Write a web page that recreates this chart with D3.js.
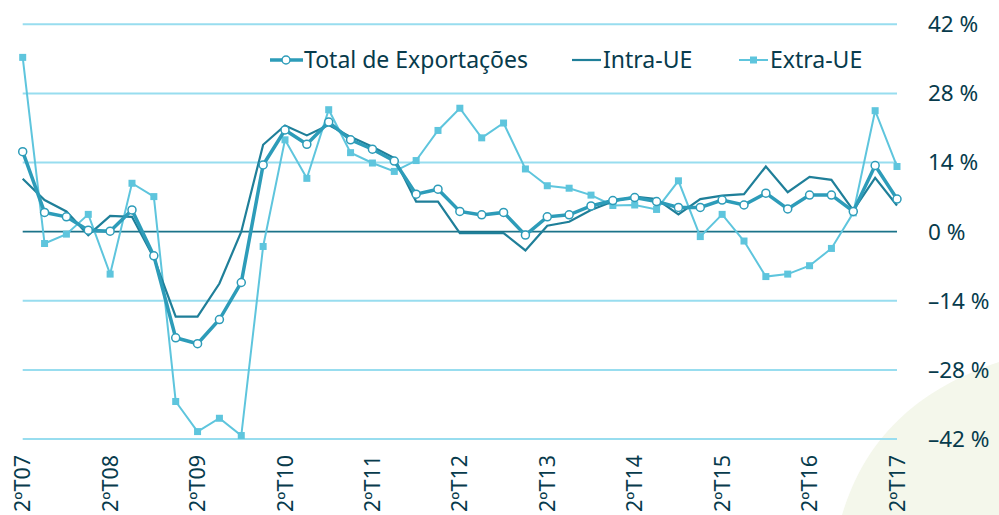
<!DOCTYPE html>
<html>
<head>
<meta charset="utf-8">
<script src="https://cdn.jsdelivr.net/npm/d3@7"></script>
<style>
    body { margin: 0; background: #fff; }
    svg text { font-family: "Noto Sans", sans-serif; fill: #073b4c; }
</style>
</head>
<body>
<div id="chart"></div>
<script>
// quarters 2ºT07 .. 2ºT17 (41 points)
const quarters = d3.range(41);
const tickLabels = ["2ºT07", "2ºT08", "2ºT09", "2ºT10", "2ºT11", "2ºT12",
    "2ºT13", "2ºT14", "2ºT15", "2ºT16", "2ºT17"];
const yTicks = [-42, -28, -14, 0, 14, 28, 42];

const totalExp = [16.2, 3.9, 3.0, 0.3, 0.1, 4.4, -4.9, -21.5, -22.7, -17.8,
    -10.3, 13.5, 20.6, 17.7, 22.2, 18.6, 16.7, 14.3, 7.6, 8.6,
    4.1, 3.4, 3.9, -0.7, 3.0, 3.4, 5.2, 6.3, 6.9, 6.1,
    4.9, 4.9, 6.4, 5.4, 7.8, 4.6, 7.4, 7.4, 4.1, 13.4, 6.6];
const intraUE = [10.7, 6.4, 4.1, -0.7, 3.2, 3.0, -5.3, -17.2, -17.2, -10.5,
    0.0, 17.6, 21.5, 19.5, 21.6, 19.2, 17.2, 14.9, 6.1, 6.1,
    -0.3, -0.3, -0.3, -3.8, 1.2, 2.0, 4.4, 6.1, 7.1, 6.6,
    3.5, 6.6, 7.3, 7.6, 13.2, 8.0, 11.1, 10.5, 4.3, 10.9, 5.3];
const extraUE = [35.3, -2.4, -0.5, 3.5, -8.6, 9.8, 7.1, -34.4, -40.5, -37.8,
    -41.3, -3.0, 18.6, 10.8, 24.7, 16.0, 13.9, 12.2, 14.4, 20.5,
    25.0, 19.0, 22.0, 12.7, 9.3, 8.8, 7.4, 5.3, 5.4, 4.5,
    10.3, -1.0, 3.5, -1.9, -9.1, -8.6, -6.9, -3.4, 3.8, 24.5, 13.2];

function lineChart(container) {

    let width = 999, height = 515;

    let svg = d3.select(container).append("svg")
        .attr("width", width)
        .attr("height", height);

    // pale decorative shape, bottom right
    svg.append("path")
        .attr("d", "M842,515 C860,455 900,395 999,362 L999,515 Z")
        .style("fill", "#f4f7eb");

    let x = d3.scaleLinear().domain([0, 40]).range([22.7, 897]);
    let y = d3.scaleLinear().domain([-42, 42]).range([439, 24.3]);

    // grid
    svg.append("g").selectAll("line")
        .data(yTicks)
        .enter().append("line")
        .attr("x1", x(0)).attr("x2", x(40))
        .attr("y1", d => y(d)).attr("y2", d => y(d))
        .style("stroke", d => d === 0 ? "#1b7389" : "#98ddef")
        .style("stroke-width", d => d === 0 ? 1.6 : 2);

    // y labels on the right
    svg.append("g").selectAll("text")
        .data(yTicks)
        .enter().append("text")
        .attr("x", 928)
        .attr("y", d => y(d))
        .attr("dy", "0.35em")
        .style("font-size", "22.5px")
        .text(d => (d < 0 ? "\u2013" + Math.abs(d) : d) + " %");

    // x labels, rotated
    svg.append("g").selectAll("text")
        .data(tickLabels)
        .enter().append("text")
        .attr("transform", (d, i) => "translate(" + x(i * 4) + ",455) rotate(-90)")
        .attr("dy", "0.35em")
        .attr("text-anchor", "end")
        .style("font-size", "21.5px")
        .text(d => d);

    let line = d3.line()
        .x((d, i) => x(quarters[i]))
        .y(d => y(d));

    // Extra-UE
    svg.append("path")
        .attr("d", line(extraUE))
        .style("fill", "none")
        .style("stroke", "#5ec5dd")
        .style("stroke-width", 2);
    svg.append("g").selectAll("rect")
        .data(extraUE)
        .enter().append("rect")
        .attr("x", (d, i) => x(quarters[i]) - 3.5)
        .attr("y", d => y(d) - 3.5)
        .attr("width", 7).attr("height", 7)
        .style("fill", "#5ec5dd");

    // Intra-UE
    svg.append("path")
        .attr("d", line(intraUE))
        .style("fill", "none")
        .style("stroke", "#1f7f99")
        .style("stroke-width", 2.2);

    // Total
    svg.append("path")
        .attr("d", line(totalExp))
        .style("fill", "none")
        .style("stroke", "#2d9cb9")
        .style("stroke-width", 3.5);
    svg.append("g").selectAll("circle")
        .data(totalExp)
        .enter().append("circle")
        .attr("cx", (d, i) => x(quarters[i]))
        .attr("cy", d => y(d))
        .attr("r", 4)
        .style("fill", "#fff")
        .style("stroke", "#2d9cb9")
        .style("stroke-width", 1.5);

    // legend
    let legend = svg.append("g");
    let ly = 60;

    legend.append("line")
        .attr("x1", 270).attr("x2", 303).attr("y1", ly).attr("y2", ly)
        .style("stroke", "#2d9cb9").style("stroke-width", 3.5);
    legend.append("circle")
        .attr("cx", 286).attr("cy", ly).attr("r", 4)
        .style("fill", "#fff").style("stroke", "#2d9cb9").style("stroke-width", 1.5);
    legend.append("text").attr("x", 304).attr("y", ly).attr("dy", "0.35em")
        .style("font-size", "23px").text("Total de Exportações");

    legend.append("line")
        .attr("x1", 572).attr("x2", 601).attr("y1", ly).attr("y2", ly)
        .style("stroke", "#1f7f99").style("stroke-width", 2.2);
    legend.append("text").attr("x", 603).attr("y", ly).attr("dy", "0.35em")
        .style("font-size", "23px").text("Intra-UE");

    legend.append("line")
        .attr("x1", 739).attr("x2", 768).attr("y1", ly).attr("y2", ly)
        .style("stroke", "#5ec5dd").style("stroke-width", 2);
    legend.append("rect")
        .attr("x", 750).attr("y", ly - 3.5).attr("width", 7).attr("height", 7)
        .style("fill", "#5ec5dd");
    legend.append("text").attr("x", 770).attr("y", ly).attr("dy", "0.35em")
        .style("font-size", "23px").text("Extra-UE");
}

lineChart("#chart");
</script>
</body>
</html>
